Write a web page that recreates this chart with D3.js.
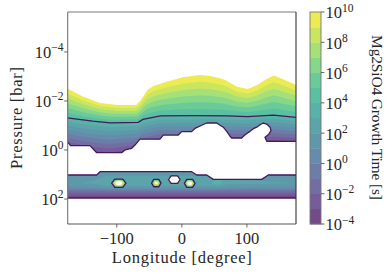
<!DOCTYPE html>
<html><head><meta charset="utf-8">
<script src="https://cdn.jsdelivr.net/npm/d3@7"></script>
<style>
body{margin:0;background:#fff}
svg{display:block}
</style>
</head><body>
<svg id="c" width="391" height="275"></svg>
<script>
// ---------------- data ----------------
const xTicks = [-100, 0, 100];
const yTickExps = [-4, -2, 0, 2];
const cbTickExps = [-4, -2, 0, 2, 4, 6, 8, 10];
const levels = [-4, -3, -2, -1, 0, 1, 2, 3, 4, 5, 6, 7, 8, 9, 10]; // log10 growth time [s]
const topLevel = 10, lineLevel = 4, deepLevel = -3;

// log10 pressure of the 10^10 s contour (top of coloured area)
const topLon  = [-176, -152, -126, -100, -70, -63, -53, -44, -23, 2, 28, 44, 64, 85, 101, 116, 128, 141, 151, 176];
const topLogP = [-2.51, -2.18, -1.92, -1.84, -1.84, -2.04, -2.45, -2.61, -2.79, -2.97, -3.06, -3.02, -2.89, -2.58, -2.49, -2.65, -2.86, -3.04, -2.94, -2.65];

// log10 pressure of the dark 10^4 s contour line, and of the 10^-3 s level below it
const lineLon  = [-176, -137, -110, -67, -60, -33, 17, 70, 101, 141, 176];
const lineLogP = [-1.31, -1.18, -1.11, -1.13, -1.25, -1.39, -1.40, -1.39, -1.36, -1.42, -1.33];
const deepLogP = [-0.15, 0.05, 0.10, -0.05, -0.20, -0.35, -0.35, -0.40, -0.35, -0.40, -0.35];

// deep cloud band: log10 growth time at rows (logP) x columns (lon)
const lowerLogP = [0.85, 1.05, 1.35, 1.55, 1.68, 1.82, 1.99];
const lowerLon  = [-176, -135, -115, 45, 55, 70, 176];
const lowerT = [
  [1.0, 1.0, 1.2, 1.2, 1.2, 1.0, 1.0],
  [1.3, 1.5, 2.0, 2.0, 2.0, 1.5, 1.3],
  [1.8, 2.2, 3.0, 3.0, 3.8, 2.4, 2.0],
  [0.6, 0.8, 1.2, 1.2, 1.2, 0.8, 0.6],
  [-1.4, -1.4, -1.2, -1.2, -1.2, -1.4, -1.4],
  [-2.8, -2.8, -2.8, -2.8, -2.8, -2.8, -2.8],
  [-3.7, -3.7, -3.7, -3.7, -3.7, -3.7, -3.7]
];
const bandBottomLogP = 1.96;

// region with no growth (white gap between the two cloud decks)
const gapLon  = [-176, -171.2, -141.2, -130.9, -92.5, -87.4, -77.1, -72.0, -64.4, -33.6, -28.5, -5.5, -0.2, 15.1, 20.2, 30.5, 38.2, 53.6, 58.7, 63.7, 69.0, 74.0, 76.6, 92.0, 97.1, 104.8, 109.9, 115.1, 120.2, 125.2, 130.5, 135.6, 137.1, 132.9, 127.8, 130.5, 180, 180, 132.9, 122.8, 48.4, 38.2, 22.8, 15.1, -125.8, -130.9, -180, -180];
const gapLogP = [-0.35, -0.18, -0.18, 0.11, 0.11, 0.0, -0.07, -0.20, -0.44, -0.44, -0.61, -0.61, -0.75, -0.75, -0.88, -1.01, -1.10, -1.10, -1.01, -0.93, -0.76, -0.56, -0.49, -0.49, -0.62, -0.76, -0.87, -0.93, -1.03, -1.10, -1.06, -0.93, -0.79, -0.62, -0.52, -0.355, -0.355, 1.02, 1.02, 1.20, 1.20, 1.02, 1.02, 0.886, 0.886, 1.02, 1.02, -0.35];

// isolated hot spots in the deep deck
const spotLon  = [-96.9, -39.3, -11.6, 12.1];
const spotLogP = [1.355, 1.35, 1.21, 1.36];
const spotHalfLon  = [11, 7.2, 9, 8.2];
const spotHalfLogP = [0.17, 0.15, 0.15, 0.163];
const spotPeak = [15, 12.5, 30, 14.5];
const spotEdge = [4, 3.5, 12, 3.5];

// ---------------- layout ----------------
const plot = {l: 67.7, r: 296, t: 12, b: 224};
const cbar = {l: 310, r: 321, t: 12, b: 224};
const x = d3.scaleLinear().domain([-175.5, 175.5]).range([plot.l, plot.r]);
const y = d3.scaleLog().domain([Math.pow(10, -5.63), Math.pow(10, 3.02)]).range([plot.t, plot.b]);
const cy = d3.scaleLinear().domain([levels[0], levels[levels.length - 1]]).range([cbar.b, cbar.t]);
const outline = "#43195c";
const serif = "Liberation Serif";

const nb = levels.length - 1;
function bandColor(i) {
  const c = d3.rgb(d3.interpolateViridis((i + 0.5) / nb));
  const a = 0.75;
  return d3.rgb(c.r * a + 255 * (1 - a), c.g * a + 255 * (1 - a), c.b * a + 255 * (1 - a)).formatHex();
}
const colors = d3.range(nb).map(bandColor);

// ---------------- grid ----------------
const lon0 = -178, dlon = 1, nx = 357;
const lp0 = -5.72, dlp = 0.02, ny = 442;
const fTop = d3.scaleLinear().domain(topLon).range(topLogP).clamp(true);
const fLine = d3.scaleLinear().domain(lineLon).range(lineLogP).clamp(true);
const fDeep = d3.scaleLinear().domain(lineLon).range(deepLogP).clamp(true);
const rowFns = lowerT.map(r => d3.scaleLinear().domain(lowerLon).range(r).clamp(true));

const values = new Float64Array(nx * ny);
for (let i = 0; i < nx; i++) {
  const lon = lon0 + i * dlon;
  const tP = fTop(lon), lP = fLine(lon), dP = fDeep(lon);
  const fLow = d3.scaleLinear().domain(lowerLogP).range(rowFns.map(f => f(lon))).clamp(true);
  for (let j = 0; j < ny; j++) {
    const lp = lp0 + j * dlp;
    let v;
    if (lp < 0.5) {
      if (lp <= lP) v = lineLevel + (topLevel - lineLevel) * (lP - lp) / (lP - tP);
      else v = Math.max(-3.9, lineLevel - (lineLevel - deepLevel) * (lp - lP) / (dP - lP));
    } else {
      v = fLow(lp);
      for (let s = 0; s < spotLon.length; s++) {
        const d = Math.hypot((lon - spotLon[s]) / spotHalfLon[s], (lp - spotLogP[s]) / spotHalfLogP[s]);
        if (d < 1) v = Math.max(v, spotPeak[s] - (spotPeak[s] - spotEdge[s]) * d);
      }
    }
    values[j * nx + i] = v;
  }
}

const contours = d3.contours().size([nx, ny]).thresholds(levels)(values);
const proj = d3.geoTransform({
  point(px, py) {
    this.stream.point(x(lon0 + (px - 0.5) * dlon), y(Math.pow(10, lp0 + (py - 0.5) * dlp)));
  }
});
const path = d3.geoPath(proj);

// ---------------- draw ----------------
const svg = d3.select("#c");
svg.append("defs").append("clipPath").attr("id", "clip")
  .append("rect").attr("x", plot.l).attr("y", plot.t).attr("width", plot.r - plot.l).attr("height", plot.b - plot.t);
const g = svg.append("g").attr("clip-path", "url(#clip)");

g.selectAll("path.band").data(contours).join("path")
  .attr("class", "band")
  .attr("d", path)
  .attr("fill", (d, i) => i < nb ? colors[i] : "#ffffff")
  .attr("stroke", "none");

const lineGen = d3.line().x(d => x(d[0])).y(d => y(Math.pow(10, d[1])));

// white gap
g.append("path")
  .attr("d", lineGen(gapLon.map((l, i) => [l, gapLogP[i]])) + "Z")
  .attr("fill", "#fff").attr("stroke", outline).attr("stroke-width", 1.3).attr("stroke-linejoin", "round");

// below the deep deck
g.append("rect").attr("x", plot.l).attr("width", plot.r - plot.l)
  .attr("y", y(Math.pow(10, bandBottomLogP))).attr("height", plot.b - y(Math.pow(10, bandBottomLogP)))
  .attr("fill", "#fff");
g.append("path")
  .attr("d", lineGen([[-180, bandBottomLogP], [180, bandBottomLogP]]))
  .attr("stroke", outline).attr("stroke-width", 1.3).attr("fill", "none");

// spot outlines
spotLon.forEach((l, s) => {
  const w = spotHalfLon[s], h = spotHalfLogP[s], p = spotLogP[s];
  const pts = [[l - w, p], [l - 0.55 * w, p - h], [l + 0.55 * w, p - h], [l + w, p], [l + 0.55 * w, p + h], [l - 0.55 * w, p + h]];
  g.append("path").attr("d", lineGen(pts) + "Z")
    .attr("fill", "none").attr("stroke", outline).attr("stroke-width", 1.3).attr("stroke-linejoin", "round");
});

// dark contour line
g.append("path")
  .attr("d", lineGen(lineLon.map((l, i) => [l, lineLogP[i]])))
  .attr("fill", "none").attr("stroke", outline).attr("stroke-width", 1.3);

// spines
const spine = (x1, y1, x2, y2, c) => svg.append("line").attr("x1", x1).attr("y1", y1).attr("x2", x2).attr("y2", y2)
  .attr("stroke", c).attr("stroke-width", 1.1);
spine(plot.l, plot.t, plot.r, plot.t, "#7a7a7a");
spine(plot.l, plot.t, plot.l, plot.b, "#7a7a7a");
spine(plot.r, plot.t, plot.r, plot.b, "#333");
spine(plot.l, plot.b, plot.r, plot.b, "#555");

function txt(sel) { return sel.append("text").attr("font-family", serif).attr("fill", "#262626"); }
function pow10(sel, e) {
  sel.append("tspan").text("10");
  sel.append("tspan").attr("dy", -6.8).attr("font-size", 11.5).text(e < 0 ? "\u2212" + (-e) : String(e));
}

// x ticks
xTicks.forEach(v => {
  svg.append("line").attr("x1", x(v)).attr("x2", x(v)).attr("y1", plot.b).attr("y2", plot.b + 3.5)
    .attr("stroke", "#555").attr("stroke-width", 0.9);
  txt(svg).attr("x", x(v)).attr("y", 243.5).attr("text-anchor", "middle").attr("font-size", 16.5)
    .text(v < 0 ? "\u2212" + (-v) : String(v));
});
// y ticks
yTickExps.forEach(e => {
  const yy = y(Math.pow(10, e));
  svg.append("line").attr("x1", plot.l - 3.5).attr("x2", plot.l).attr("y1", yy).attr("y2", yy)
    .attr("stroke", "#555").attr("stroke-width", 0.9);
  const t = txt(svg).attr("x", 63.5).attr("y", yy + 6.2).attr("text-anchor", "end").attr("font-size", 16.5);
  pow10(t, e);
});

// axis labels
txt(svg).attr("x", (plot.l + plot.r) / 2).attr("y", 262.5).attr("text-anchor", "middle")
  .attr("font-size", 16.5).attr("textLength", 140).attr("lengthAdjust", "spacing").text("Longitude [degree]");
txt(svg).attr("transform", "translate(21.5,118) rotate(-90)").attr("text-anchor", "middle")
  .attr("font-size", 16.5).attr("textLength", 102).attr("lengthAdjust", "spacing").text("Pressure [bar]");

// colorbar
svg.selectAll("rect.cb").data(d3.range(nb)).join("rect").attr("class", "cb")
  .attr("x", cbar.l).attr("width", cbar.r - cbar.l)
  .attr("y", i => cy(levels[i + 1])).attr("height", i => cy(levels[i]) - cy(levels[i + 1]) + 0.4)
  .attr("fill", i => colors[i]);
svg.append("rect").attr("x", cbar.l).attr("y", cbar.t).attr("width", cbar.r - cbar.l).attr("height", cbar.b - cbar.t)
  .attr("fill", "none").attr("stroke", "#777").attr("stroke-width", 0.9);
cbTickExps.forEach(e => {
  const yy = cy(e);
  svg.append("line").attr("x1", cbar.r).attr("x2", cbar.r + 3.5).attr("y1", yy).attr("y2", yy)
    .attr("stroke", "#555").attr("stroke-width", 0.9);
  const t = txt(svg).attr("x", 325.5).attr("y", yy + 6.4).attr("font-size", 16.5);
  pow10(t, e);
});
txt(svg).attr("transform", "translate(372,117.5) rotate(90)").attr("text-anchor", "middle")
  .attr("font-size", 15.5).attr("textLength", 165).attr("lengthAdjust", "spacing").text("Mg2SiO4 Growth Time [s]");
</script>
</body></html>
